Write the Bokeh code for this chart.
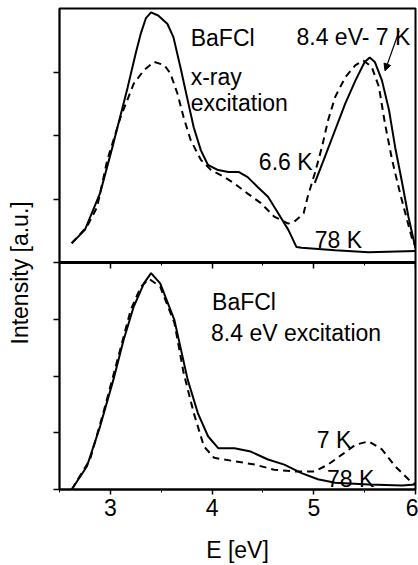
from bokeh.plotting import figure
from bokeh.models import Range1d, LinearAxis, FixedTicker, Title, Label, Arrow, NormalHead
from bokeh.embed import file_html
from bokeh.resources import INLINE

# ---------------- data ----------------
# upper panel: x-ray excitation
xr_66K_e = [2.62, 2.75, 2.90, 3.03, 3.17, 3.25, 3.30, 3.35, 3.40, 3.47, 3.56, 3.62, 3.69, 3.76, 3.82, 3.89,
            3.96, 4.06, 4.16, 4.26, 4.35, 4.45, 4.55, 4.65, 4.75, 4.83, 4.88, 5.21, 5.54, 6.00]
xr_66K_i = [0.31, 0.52, 1.10, 1.88, 2.76, 3.30, 3.61, 3.85, 3.94, 3.89, 3.76, 3.55, 3.07, 2.56, 2.13, 1.77,
            1.54, 1.46, 1.43, 1.43, 1.35, 1.19, 1.04, 0.78, 0.52, 0.25, 0.24, 0.20, 0.17, 0.19]

xr_78K_e = [2.62, 2.77, 2.87, 2.97, 3.10, 3.23, 3.33, 3.43, 3.53, 3.59, 3.66, 3.72, 3.79, 3.89,
            3.99, 4.12, 4.22, 4.35, 4.48, 4.61, 4.75, 4.81, 4.90, 4.94, 5.01, 5.08, 5.14, 5.21,
            5.31, 5.41, 5.49, 5.57, 5.64, 5.70, 5.77, 5.84, 5.90, 5.97, 6.00]
xr_78K_i = [0.31, 0.57, 0.88, 1.62, 2.29, 2.82, 3.03, 3.16, 3.11, 2.98, 2.66, 2.29, 1.93, 1.62,
            1.46, 1.35, 1.25, 1.09, 0.94, 0.73, 0.62, 0.65, 0.78, 1.04, 1.41, 1.82, 2.24, 2.61,
            2.92, 3.11, 3.18, 3.08, 2.77, 2.19, 1.62, 1.15, 0.78, 0.36, 0.26]

# upper panel: 8.4 eV excitation at 7 K (high-energy band only)
uv_7K_e = [5.01, 5.11, 5.21, 5.31, 5.41, 5.50, 5.55, 5.60, 5.67, 5.74, 5.80, 5.87, 5.93, 6.00]
uv_7K_i = [1.26, 1.67, 2.09, 2.51, 2.87, 3.16, 3.23, 3.16, 2.87, 2.40, 1.82, 1.25, 0.73, 0.23]

# lower panel: 8.4 eV excitation
ex_78K_e = [2.62, 2.77, 2.90, 3.03, 3.13, 3.23, 3.33, 3.40, 3.49, 3.63, 3.76, 3.86, 3.96, 4.06,
            4.22, 4.38, 4.55, 4.71, 4.88, 5.04, 5.21, 5.54, 5.87, 6.00]
ex_78K_i = [0.00, 0.41, 1.12, 1.94, 2.64, 3.23, 3.64, 3.82, 3.64, 2.99, 1.94, 1.35, 0.94, 0.73,
            0.73, 0.67, 0.53, 0.44, 0.29, 0.18, 0.12, 0.09, 0.07, 0.09]

ex_7K_e = [2.62, 2.80, 2.93, 3.07, 3.20, 3.30, 3.38, 3.49, 3.63, 3.72, 3.82, 3.92, 4.02, 4.22,
           4.42, 4.61, 4.81, 5.01, 5.14, 5.28, 5.41, 5.54, 5.67, 5.80, 5.93, 6.00]
ex_7K_i = [0.00, 0.53, 1.35, 2.29, 3.17, 3.58, 3.72, 3.58, 2.94, 2.06, 1.35, 0.76, 0.56, 0.50,
           0.44, 0.35, 0.32, 0.32, 0.44, 0.62, 0.79, 0.85, 0.71, 0.41, 0.18, 0.09]

x_ticks = [3, 4, 5, 6]
x_minor = [2.5, 3.5, 4.5, 5.5]
panel_ticks = [0, 1, 2, 3, 4]

# ---------------- layout ----------------
FONT = "Liberation Sans"
FS = "23px"

BOT_PX = 227.0   # lower panel height in px
TOP_PX = 255.0   # upper panel height in px
bot_unit = BOT_PX / 4.0
top_unit = TOP_PX / 4.0
y_end = (BOT_PX + TOP_PX) / bot_unit
top_start = -BOT_PX / top_unit

p = figure(width=418, height=565, output_backend="svg", toolbar_location=None,
           x_range=Range1d(2.5, 6.0), y_range=Range1d(0, y_end),
           min_border_left=59, min_border_right=3, min_border_top=8, min_border_bottom=75,
           x_axis_type=None, y_axis_type=None)
p.extra_y_ranges = {"top": Range1d(top_start, 4.0)}
p.grid.visible = False
p.outline_line_color = "black"
p.outline_line_width = 2
p.background_fill_color = "white"
p.border_fill_color = "white"

# bottom x axis
xax = LinearAxis(ticker=FixedTicker(ticks=x_ticks, minor_ticks=x_minor))
xax.axis_line_width = 2
xax.major_tick_in = 0
xax.major_tick_out = 5
xax.major_tick_line_width = 1.5
xax.minor_tick_in = 0
xax.minor_tick_out = 3
xax.major_label_text_font = FONT
xax.major_label_text_font_size = FS
xax.major_label_text_color = "black"
xax.major_label_standoff = 4
xax.axis_label = "E [eV]"
xax.axis_label_text_font = FONT
xax.axis_label_text_font_size = FS
xax.axis_label_text_font_style = "normal"
xax.axis_label_text_color = "black"
xax.axis_label_standoff = 18
p.add_layout(xax, "below")

# separator between the two panels (axis fixed at the panel boundary)
mid = LinearAxis(ticker=FixedTicker(ticks=x_ticks, minor_ticks=x_minor), fixed_location=4.0)
mid.axis_line_width = 3
mid.major_tick_in = 0
mid.major_tick_out = 6
mid.major_tick_line_width = 1.5
mid.minor_tick_in = 0
mid.minor_tick_out = 3
mid.major_label_text_font_size = "0px"
mid.major_label_text_alpha = 0
p.add_layout(mid, "below")

# left axis: ticks of both panels
left_ticks = panel_ticks + [4 + k * top_unit / bot_unit for k in panel_ticks[1:4]]
yax = LinearAxis(ticker=FixedTicker(ticks=left_ticks, minor_ticks=[]))
yax.axis_line_width = 1.5
yax.major_tick_in = 0
yax.major_tick_out = 6
yax.major_tick_line_width = 1.5
yax.major_label_text_font_size = "0px"
yax.major_label_text_alpha = 0
yax.axis_label = " "
yax.axis_label_text_font_size = "1px"
yax.axis_label_standoff = 15
p.add_layout(yax, "left")

# y-axis title spanning both panels
ylab = Title(text="Intensity [a.u.]", align="left", offset=145,
             text_font=FONT, text_font_size=FS, text_font_style="normal",
             text_color="black", standoff=4)
p.add_layout(ylab, "left")

# ---------------- curves ----------------
LW = 2
p.line(xr_66K_e, xr_66K_i, y_range_name="top", line_color="black", line_width=LW)
p.line(xr_78K_e, xr_78K_i, y_range_name="top", line_color="black", line_width=LW, line_dash="7 5")
p.line(uv_7K_e, uv_7K_i, y_range_name="top", line_color="black", line_width=LW)

p.line(ex_78K_e, ex_78K_i, line_color="black", line_width=LW)
p.line(ex_7K_e, ex_7K_i, line_color="black", line_width=LW, line_dash="7 5")

# ---------------- annotations ----------------
def lab(text, x, y, rng="default"):
    p.add_layout(Label(x=x, y=y, text=text, y_range_name=rng,
                       text_font=FONT, text_font_size=FS, text_color="black",
                       text_baseline="alphabetic", text_align="left"))

lab("BaFCl", 3.79, 3.53, "top")
lab("x-ray", 3.79, 2.93, "top")
lab("excitation", 3.79, 2.51, "top")
lab("8.4 eV- 7 K", 4.83, 3.55, "top")
lab("6.6 K", 4.46, 1.58, "top")
lab("78 K", 5.01, 0.36, "top")

lab("BaFCl", 4.00, 3.31)
lab("8.4 eV excitation", 3.99, 2.77)
lab("7 K", 5.03, 0.88)
lab("78 K", 5.13, 0.19)

p.add_layout(Arrow(end=NormalHead(size=7, fill_color="black", line_color="black"),
                   x_start=5.84, y_start=3.65, x_end=5.70, y_end=3.02,
                   y_range_name="top", line_color="black", line_width=1.2))

open("out.html", "w").write(file_html(p, INLINE))
